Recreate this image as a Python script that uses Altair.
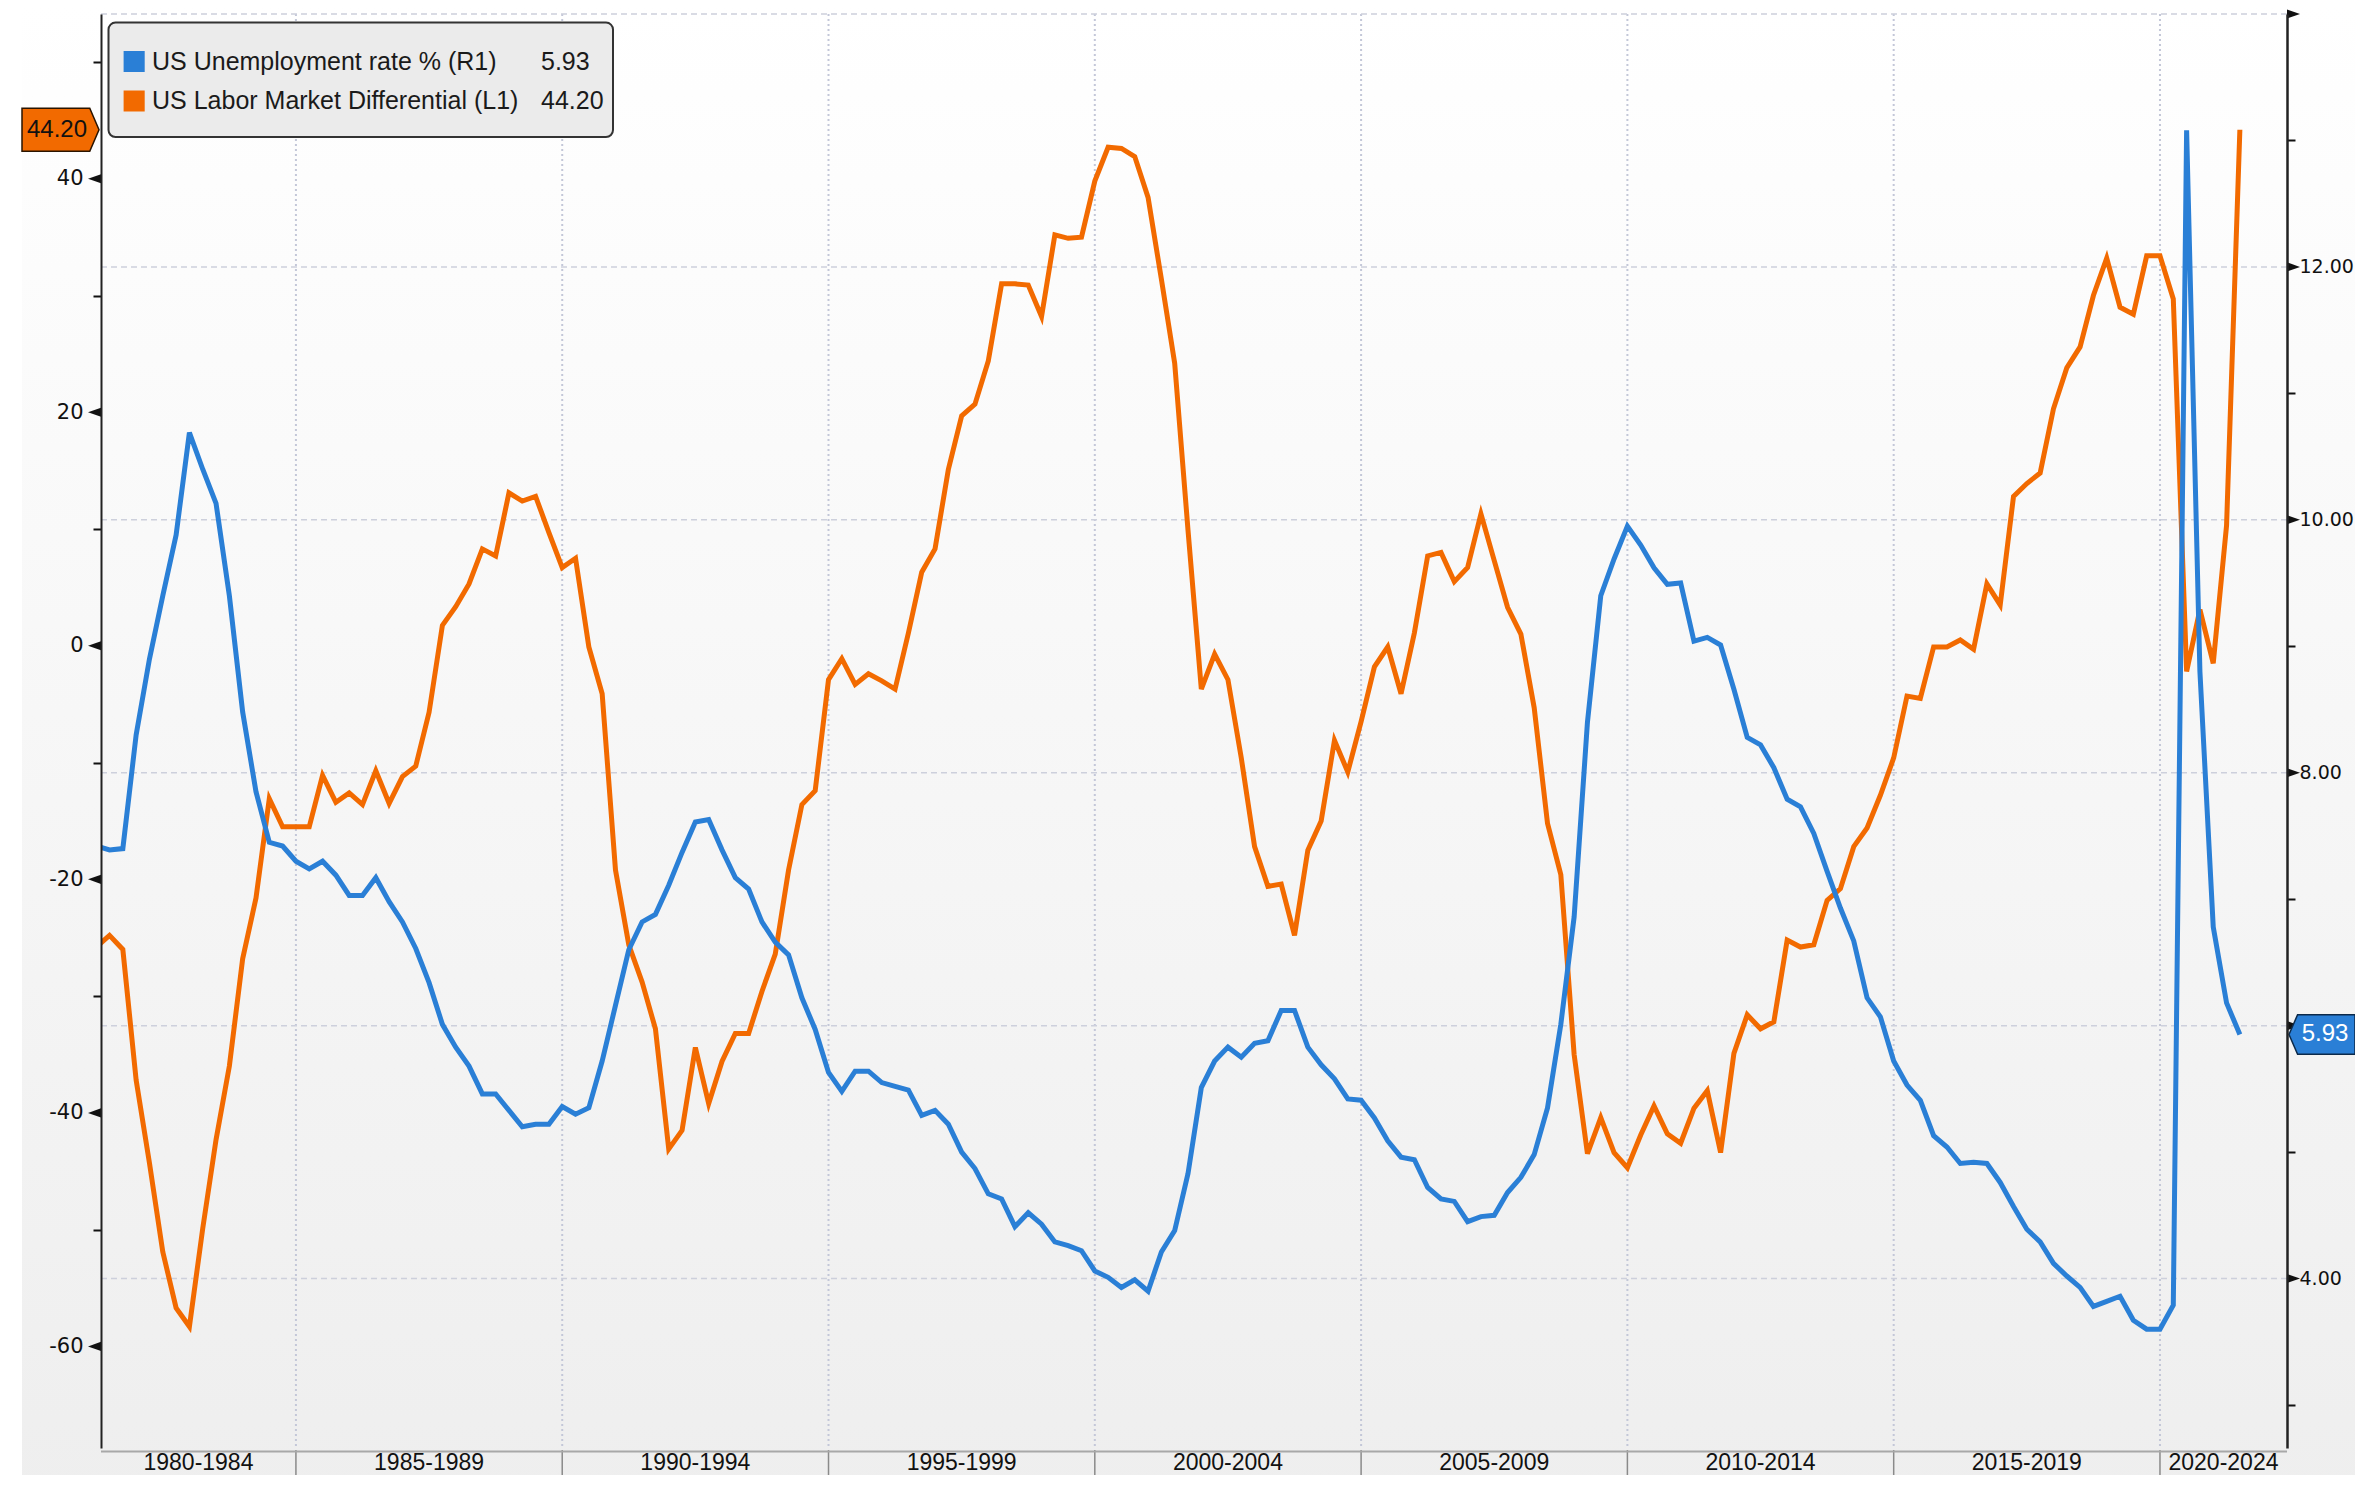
import altair as alt
import pandas as pd

# ---------------- data ----------------
quarters = [f"{y}Q{q}" for y in range(1981, 2022) for q in range(1, 5)][:162]  # 1981Q1 .. 2021Q2

unemployment = [
    7.42, 7.39, 7.40, 8.30, 8.90, 9.40, 9.88, 10.69, 10.40, 10.13,
    9.40, 8.48, 7.85, 7.45, 7.42, 7.30, 7.24, 7.30, 7.19, 7.03,
    7.03, 7.17, 6.98, 6.82, 6.61, 6.34, 6.01, 5.83, 5.68, 5.46,
    5.46, 5.33, 5.20, 5.22, 5.22, 5.36, 5.30, 5.35, 5.72, 6.16,
    6.60, 6.82, 6.88, 7.11, 7.37, 7.61, 7.63, 7.39, 7.17, 7.08,
    6.82, 6.66, 6.56, 6.22, 5.97, 5.63, 5.48, 5.64, 5.64, 5.55,
    5.52, 5.49, 5.29, 5.33, 5.22, 5.00, 4.87, 4.67, 4.63, 4.41,
    4.52, 4.43, 4.29, 4.26, 4.22, 4.06, 4.01, 3.93, 3.99, 3.90,
    4.21, 4.38, 4.83, 5.51, 5.72, 5.83, 5.75, 5.86, 5.88, 6.12,
    6.12, 5.83, 5.69, 5.58, 5.42, 5.41, 5.27, 5.09, 4.96, 4.94,
    4.72, 4.63, 4.61, 4.45, 4.49, 4.50, 4.68, 4.80, 4.98, 5.35,
    6.01, 6.86, 8.40, 9.40, 9.69, 9.95, 9.80, 9.62, 9.49, 9.50,
    9.04, 9.07, 9.01, 8.66, 8.28, 8.22, 8.04, 7.79, 7.73, 7.52,
    7.22, 6.93, 6.67, 6.22, 6.07, 5.72, 5.53, 5.41, 5.13, 5.04,
    4.91, 4.92, 4.91, 4.76, 4.57, 4.39, 4.29, 4.12, 4.02, 3.93,
    3.78, 3.82, 3.86, 3.67, 3.60, 3.60, 3.79, 13.08, 8.80, 6.78,
    6.18, 5.93,
]

labor_diff = [
    -25.8, -24.8, -26.0, -37.2, -44.3, -51.9, -56.7, -58.3, -49.9, -42.3,
    -36.0, -26.8, -21.6, -13.1, -15.5, -15.5, -15.5, -11.1, -13.4, -12.6,
    -13.6, -10.7, -13.5, -11.2, -10.3, -5.7, 1.75, 3.35, 5.3, 8.3,
    7.7, 13.1, 12.4, 12.8, 9.7, 6.7, 7.5, -0.1, -4.1, -19.2,
    -25.6, -28.8, -32.8, -43.1, -41.5, -34.4, -39.2, -35.6, -33.2, -33.2,
    -29.6, -26.4, -19.2, -13.6, -12.4, -2.9, -1.1, -3.3, -2.4, -3.0,
    -3.7, 1.1, 6.3, 8.3, 15.1, 19.7, 20.7, 24.4, 31.0, 31.0,
    30.9, 28.2, 35.2, 34.9, 35.0, 39.8, 42.7, 42.6, 41.9, 38.4,
    31.4, 24.2, 9.9, -3.7, -0.7, -2.9, -9.6, -17.2, -20.6, -20.4,
    -24.8, -17.5, -15.0, -8.1, -10.8, -6.5, -1.8, -0.1, -4.1, 1.1,
    7.7, 8.0, 5.5, 6.7, 11.3, 7.3, 3.3, 1.0, -5.3, -15.2,
    -19.6, -35.0, -43.5, -40.4, -43.4, -44.7, -41.9, -39.4, -41.8, -42.6,
    -39.6, -38.1, -43.4, -34.9, -31.6, -32.8, -32.2, -25.2, -25.8, -25.6,
    -21.8, -20.8, -17.2, -15.6, -12.8, -9.6, -4.3, -4.5, -0.1, -0.1,
    0.5, -0.3, 5.3, 3.5, 12.8, 13.9, 14.8, 20.3, 23.8, 25.6,
    30.0, 33.2, 29.0, 28.4, 33.4, 33.4, 29.7, -2.2, 3.1, -1.5,
    10.3, 44.2,
]

series_names = ["US Unemployment rate % (R1)", "US Labor Market Differential (L1)"]
last_values = ["5.93", "44.20"]

band_labels = ["1980-1984", "1985-1989", "1990-1994", "1995-1999", "2000-2004",
               "2005-2009", "2010-2014", "2015-2019", "2020-2024"]
band_starts = [1980, 1985, 1990, 1995, 2000, 2005, 2010, 2015, 2020]

left_major = [-60, -40, -20, 0, 20, 40]
left_all = list(range(-60, 51, 10))
right_major = [4, 6, 8, 10, 12, 14]
right_all = list(range(3, 15))

assert len(quarters) == len(unemployment) == len(labor_diff) == 162

# ---------------- layout / style ----------------
W, H = 2186, 1434
X0, X1 = 1981.34, 2022.385
L_DOM = [-68.70, 54.11]
R_DOM = [2.66, 14.0]
BLUE = "#2a7fd6"
ORANGE = "#f26a00"
TXT = "Liberation Sans"
WIDE = "DejaVu Sans"

t = [int(q[:4]) + int(q[-1]) / 4.0 for q in quarters]
df = pd.DataFrame({"quarter": quarters, "t": t, "unemp": unemployment, "diff": labor_diff})

xs = alt.Scale(domain=[X0, X1], nice=False, zero=False)
ls = alt.Scale(domain=L_DOM, nice=False, zero=False)
rs = alt.Scale(domain=R_DOM, nice=False, zero=False)

one = pd.DataFrame({"k": [0]})

# background gradient
bg = alt.Chart(one).mark_rect(
    color=alt.Gradient(gradient="linear",
                       stops=[alt.GradientStop(color="#ffffff", offset=0),
                              alt.GradientStop(color="#eeeeee", offset=1)],
                       x1=0, x2=0, y1=0, y2=1)
).encode(x=alt.value(-79), x2=alt.value(W + 90), y=alt.value(-10), y2=alt.value(H + 60))

# vertical dotted grid at 5-year boundaries
sep_years = band_starts[1:]
vgrid = alt.Chart(pd.DataFrame({"yr": sep_years})).mark_rule(
    color="#c3c7d8", strokeWidth=2, strokeDash=[2, 3]
).encode(x=alt.X("yr:Q", scale=xs, axis=None), y=alt.value(0), y2=alt.value(H))

# horizontal dashed grid on right-axis majors
hgrid = alt.Chart(pd.DataFrame({"v": right_major})).mark_rule(
    color="#cdd0dc", strokeWidth=1.5, strokeDash=[6, 4]
).encode(y=alt.Y("v:Q", scale=rs, axis=None), x=alt.value(0), x2=alt.value(W))

x_axis = alt.Axis(
    values=list(range(1982, 2023)), labels=False, title=None, grid=False,
    tickSize=10, tickWidth=2, tickColor="#222",
    tickOpacity={"condition": {"test": "datum.value % 5 == 0", "value": 0}, "value": 1},
    domainColor="#2b2b2b", domainWidth=3, zindex=1,
)

left_axis = alt.Axis(
    orient="left", values=left_all, title=None, grid=False,
    labelExpr="datum.value % 20 == 0 ? '' + datum.value : ''",
    tickSize=8, tickWidth=2, tickColor="#111",
    tickOpacity={"condition": {"test": "datum.value % 20 == 0", "value": 0}, "value": 1},
    labelPadding=10, labelFont=WIDE, labelFontSize=21, labelColor="#111",
    labelOverlap=False, domainColor="#222", domainWidth=2, zindex=1,
)

right_axis = alt.Axis(
    orient="right", values=right_all, title=None, grid=False,
    labelExpr="(datum.value % 2 == 0 && datum.value < 14 && datum.value != 6) ? format(datum.value, '.2f') : ''",
    tickSize=8, tickWidth=2, tickColor="#111",
    tickOpacity={"condition": {"test": "datum.value % 2 == 0", "value": 0}, "value": 1},
    labelPadding=4, labelFont=WIDE, labelFontSize=19, labelColor="#111",
    labelOverlap=False, domainColor="#222", domainWidth=2.5, zindex=1,
)

orange_line = alt.Chart(df).mark_line(color=ORANGE, strokeWidth=5, clip=True).encode(
    x=alt.X("t:Q", scale=xs, axis=x_axis),
    y=alt.Y("diff:Q", scale=ls, axis=left_axis),
)
blue_line = alt.Chart(df).mark_line(color=BLUE, strokeWidth=5, clip=True).encode(
    x=alt.X("t:Q", scale=xs, axis=None),
    y=alt.Y("unemp:Q", scale=rs, axis=right_axis),
)

# arrow-shaped major ticks
TRI_L = "M 1 -0.7 L -1 0 L 1 0.7 Z"
TRI_R = "M -1 -0.7 L 1 0 L -1 0.7 Z"
ltri = alt.Chart(pd.DataFrame({"v": left_major})).mark_point(
    shape=TRI_L, filled=True, size=169, color="#111", opacity=1
).encode(x=alt.value(-6.5), y=alt.Y("v:Q", scale=ls, axis=None))
rtri = alt.Chart(pd.DataFrame({"v": right_major})).mark_point(
    shape=TRI_R, filled=True, size=169, color="#111", opacity=1
).encode(x=alt.value(W + 6.5), y=alt.Y("v:Q", scale=rs, axis=None))

# last-value flags
FLAG_R = "M -1 -0.56 L 0.76 -0.56 L 1 0 L 0.76 0.56 L -1 0.56 Z"
FLAG_L = "M 1 -0.6 L -0.74 -0.6 L -1 0 L -0.74 0.6 L 1 0.6 Z"
lflag_df = pd.DataFrame({"v": [labor_diff[-1]], "lbl": [last_values[1]]})
rflag_df = pd.DataFrame({"v": [unemployment[-1]], "lbl": [last_values[0]]})
lflag = alt.Chart(lflag_df).mark_point(
    shape=FLAG_R, filled=True, size=5929, fill=ORANGE, stroke="#2a1400", strokeWidth=1.5, opacity=1
).encode(x=alt.value(-40.5), y=alt.Y("v:Q", scale=ls, axis=None))
lflag_txt = alt.Chart(lflag_df).mark_text(
    font=TXT, fontSize=24, color="#111", align="center", baseline="middle"
).encode(x=alt.value(-44), y=alt.Y("v:Q", scale=ls, axis=None), text="lbl:N")
rflag = alt.Chart(rflag_df).mark_point(
    shape=FLAG_L, filled=True, size=4356, fill=BLUE, stroke="#0c2a4a", strokeWidth=1.5, opacity=1
).encode(x=alt.value(W + 35), y=alt.Y("v:Q", scale=rs, axis=None))
rflag_txt = alt.Chart(rflag_df).mark_text(
    font=TXT, fontSize=24, color="#ffffff", align="center", baseline="middle"
).encode(x=alt.value(W + 38), y=alt.Y("v:Q", scale=rs, axis=None), text="lbl:N")

# x-axis band separators and band labels
seps = alt.Chart(pd.DataFrame({"yr": sep_years})).mark_rule(color="#8a8a8a", strokeWidth=1.5).encode(
    x=alt.X("yr:Q", scale=xs, axis=None), y=alt.value(H + 2), y2=alt.value(H + 60)
)
centers = [(max(s, X0) + min(s + 5, X1)) / 2 for s in band_starts]
band_df = pd.DataFrame({"c": centers, "lbl": band_labels})
band_txt = alt.Chart(band_df).mark_text(
    font=TXT, fontSize=23, color="#111", align="center", baseline="middle"
).encode(x=alt.X("c:Q", scale=xs, axis=None), y=alt.value(H + 15), text="lbl:N")
shadow = alt.Chart(one).mark_rule(color="#a8a8a8", strokeWidth=2).encode(
    x=alt.value(0), x2=alt.value(W), y=alt.value(H + 3.5)
)

# legend box
leg_box = alt.Chart(one).mark_rect(
    cornerRadius=7, fill="#ebebeb", stroke="#333333", strokeWidth=2
).encode(x=alt.value(7.5), x2=alt.value(512), y=alt.value(8.6), y2=alt.value(123))
leg_layers = [leg_box]
row_y = [47.5, 87.0]
for name, val, col, ry in zip(series_names, last_values, [BLUE, ORANGE], row_y):
    d = pd.DataFrame({"name": [name], "val": [val]})
    leg_layers.append(alt.Chart(d).mark_rect(color=col).encode(
        x=alt.value(22.6), x2=alt.value(43.7), y=alt.value(ry - 10.5), y2=alt.value(ry + 10.5)))
    leg_layers.append(alt.Chart(d).mark_text(
        font=TXT, fontSize=25, color="#1a1a1a", align="left", baseline="middle"
    ).encode(x=alt.value(51), y=alt.value(ry), text="name:N"))
    leg_layers.append(alt.Chart(d).mark_text(
        font=TXT, fontSize=25, color="#1a1a1a", align="left", baseline="middle"
    ).encode(x=alt.value(440), y=alt.value(ry), text="val:N"))

chart = alt.layer(
    bg, vgrid, hgrid, orange_line, blue_line, ltri, rtri,
    lflag, lflag_txt, rflag, rflag_txt, seps, shadow, band_txt, *leg_layers
).resolve_scale(y="independent").properties(
    width=W, height=H,
    padding={"left": 93, "top": 6, "right": 68, "bottom": 27},
    autosize=alt.AutoSizeParams(type="none"),
    background="#ffffff",
).configure_view(stroke=None)

chart.save("out.html", embed_options={"renderer": "svg", "actions": False})
